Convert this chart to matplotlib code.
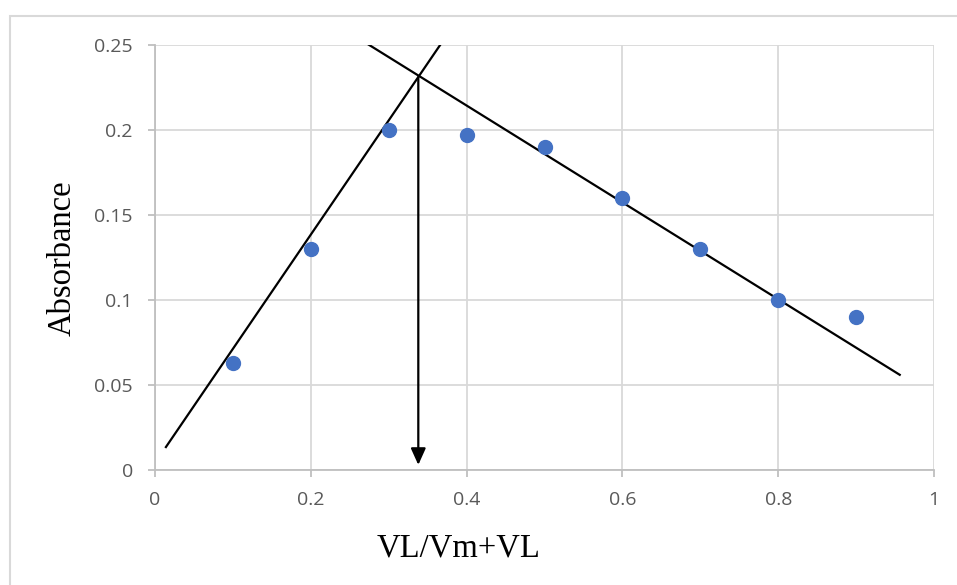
import matplotlib
matplotlib.use('Agg')
import matplotlib.pyplot as plt
from matplotlib.patches import Rectangle

# measured points
x_vals = [0.1, 0.2, 0.3, 0.4, 0.5, 0.6, 0.7, 0.8, 0.9]
absorbance = [0.063, 0.13, 0.2, 0.197, 0.19, 0.16, 0.13, 0.1, 0.09]

# hand drawn fit lines (end points) and the arrow from their crossing
rise_x = [0.014, 0.369]
rise_y = [0.0135, 0.252]
fall_x = [0.268, 0.956]
fall_y = [0.252, 0.056]
cross_x = 0.338
cross_y = 0.231
arrow_end_y = 0.003

x_ticks = [0, 0.2, 0.4, 0.6, 0.8, 1]
x_ticklabels = ['0', '0.2', '0.4', '0.6', '0.8', '1']
y_ticks = [0, 0.05, 0.1, 0.15, 0.2, 0.25]
y_ticklabels = ['0', '0.05', '0.1', '0.15', '0.2', '0.25']

fig = plt.figure(figsize=(9.57, 5.85), dpi=100)
ax = fig.add_axes([155/957, 1-470/585, 779/957, 425/585])

# outer chart border
fig.patches.append(Rectangle((9.5/957, -0.1), 1.2, 1-15.5/585+0.1,
                             transform=fig.transFigure, fill=False,
                             edgecolor='#d9d9d9', linewidth=1.5))

ax.plot(rise_x, rise_y, color='black', lw=1.6, zorder=3)
ax.plot(fall_x, fall_y, color='black', lw=1.6, zorder=3)
ax.annotate('', xy=(cross_x, arrow_end_y), xytext=(cross_x, cross_y),
            arrowprops=dict(arrowstyle='-|>,head_width=0.45,head_length=1.0',
                            color='black', lw=1.6, shrinkA=0, shrinkB=0),
            zorder=3)
ax.plot(x_vals, absorbance, 'o', color='#4472C4', markersize=10, zorder=4)

ax.set_xlim(0, 1)
ax.set_ylim(0, 0.25)
ax.set_xticks(x_ticks)
ax.set_xticklabels(x_ticklabels)
ax.set_yticks(y_ticks)
ax.set_yticklabels(y_ticklabels)
ax.grid(True, color='#d9d9d9', linewidth=1.3)
ax.set_axisbelow(True)

for s in ['top', 'right']:
    ax.spines[s].set_visible(False)
for s in ['left', 'bottom']:
    ax.spines[s].set_color('#bfbfbf')
    ax.spines[s].set_linewidth(1.3)

ax.tick_params(colors='#bfbfbf', labelcolor='#595959', length=5, width=1.3,
               labelsize=14)
ax.tick_params(axis='x', pad=10)
ax.tick_params(axis='y', pad=11)
for lab in ax.get_xticklabels() + ax.get_yticklabels():
    lab.set_family('Open Sans')

fig.text(459/957, 1-548/585, 'VL/Vm+VL', ha='center', va='center',
         family='Liberation Serif', fontsize=23.5, color='black')
fig.text(62/957, 1-258/585, 'Absorbance', ha='center', va='center',
         rotation=90, family='Liberation Serif', fontsize=23.5, color='black')

fig.savefig('out.png', dpi=100)
